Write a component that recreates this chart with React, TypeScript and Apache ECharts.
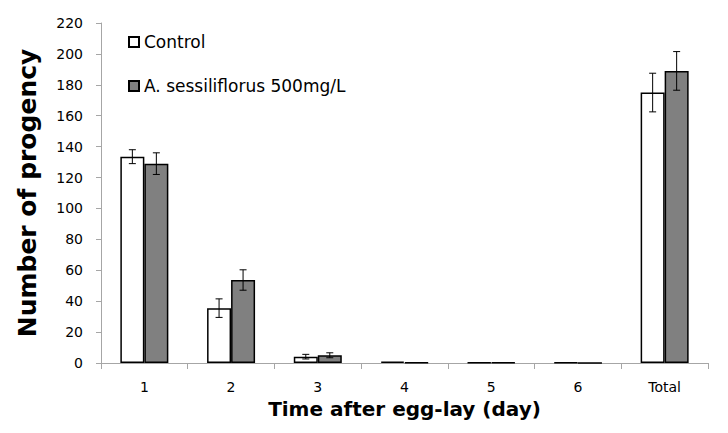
import React, { useEffect, useRef } from "react";
import * as echarts from "echarts";

const categories = ["1", "2", "3", "4", "5", "6", "Total"];
const controlValues = [133.5, 35.5, 4.1, 0.9, 0.4, 0.4, 175];
const treatedValues = [129, 53.7, 5, 0.4, 0.4, 0, 189];
const controlErrors = [4.5, 6, 1.5, 0, 0, 0, 12.5];
const treatedErrors = [7, 6.6, 1.6, 0, 0, 0, 12.5];
const seriesNames = ["Control", "A. sessiliflorus 500mg/L"];
const yTicks = { min: 0, max: 220, interval: 20 };

const FONT = "'DejaVu Sans', 'Noto Sans', sans-serif";
const BAR_W = 24;

function errorSeries(name: string, values: number[], errors: number[], offset: number) {
  const data = values.map((v, i) => [i, v, errors[i]]);
  return {
    type: "custom",
    name: name + " error",
    silent: true,
    z: 5,
    renderItem: (params: any, api: any) => {
      const idx = api.value(0);
      const v = api.value(1);
      const e = api.value(2);
      if (!e) return null;
      const top = api.coord([idx, v + e]);
      const bot = api.coord([idx, v - e]);
      const x = top[0] + offset;
      const cap = 3.5;
      const style = { stroke: "#000", lineWidth: 1 };
      return {
        type: "group",
        children: [
          { type: "line", shape: { x1: x, y1: top[1], x2: x, y2: bot[1] }, style },
          { type: "line", shape: { x1: x - cap, y1: top[1], x2: x + cap, y2: top[1] }, style },
          { type: "line", shape: { x1: x - cap, y1: bot[1], x2: x + cap, y2: bot[1] }, style },
        ],
      };
    },
    encode: { x: 0, y: 1 },
    data,
  };
}

export default function App() {
  const ref = useRef<HTMLDivElement>(null);
  useEffect(() => {
    if (!ref.current) return;
    const chart = echarts.init(ref.current, null, { renderer: "svg" });
    const legendText = { fontFamily: FONT, fontSize: 17, color: "#000", lineHeight: 20 };
    chart.setOption({
      animation: false,
      backgroundColor: "#fff",
      grid: { left: 101, right: 20, top: 23, bottom: 70, containLabel: false },
      legend: [
        {
          data: [seriesNames[0]],
          left: 128,
          top: 32,
          padding: 0,
          itemWidth: 10,
          itemHeight: 10,
          icon: "rect",
          textStyle: legendText,
        },
        {
          data: [seriesNames[1]],
          left: 128,
          top: 76,
          padding: 0,
          itemWidth: 10,
          itemHeight: 10,
          icon: "rect",
          textStyle: legendText,
        },
      ],
      xAxis: {
        type: "category",
        data: categories,
        axisLine: { lineStyle: { color: "#a6a6a6", width: 1 } },
        axisTick: { show: true, length: 6, lineStyle: { color: "#a6a6a6" } },
        axisLabel: { fontFamily: FONT, fontSize: 14, color: "#000", margin: 17 },
        name: "Time after egg-lay (day)",
        nameLocation: "middle",
        nameGap: 36,
        nameTextStyle: { fontFamily: FONT, fontSize: 20, fontWeight: "bold", color: "#000" },
      },
      yAxis: {
        type: "value",
        min: yTicks.min,
        max: yTicks.max,
        interval: yTicks.interval,
        axisLine: { show: true, lineStyle: { color: "#a6a6a6", width: 1 } },
        axisTick: { show: true, length: 5, lineStyle: { color: "#a6a6a6" } },
        splitLine: { show: false },
        axisLabel: { fontFamily: FONT, fontSize: 14, color: "#000", margin: 18 },
        name: "Number of progency",
        nameLocation: "middle",
        nameGap: 61,
        nameTextStyle: { fontFamily: FONT, fontSize: 25, fontWeight: "bold", color: "#000" },
      },
      series: [
        {
          name: seriesNames[0],
          type: "bar",
          data: controlValues,
          barWidth: BAR_W,
          barGap: "0%",
          itemStyle: { color: "#ffffff", borderColor: "#000", borderWidth: 1.5 },
        },
        {
          name: seriesNames[1],
          type: "bar",
          data: treatedValues,
          barWidth: BAR_W,
          barGap: "0%",
          itemStyle: { color: "#808080", borderColor: "#000", borderWidth: 1.5 },
        },
        errorSeries(seriesNames[0], controlValues, controlErrors, -BAR_W / 2),
        errorSeries(seriesNames[1], treatedValues, treatedErrors, BAR_W / 2),
      ],
    });
    return () => chart.dispose();
  }, []);
  return <div ref={ref} style={{ width: 728, height: 433, margin: -8 }} />;
}
